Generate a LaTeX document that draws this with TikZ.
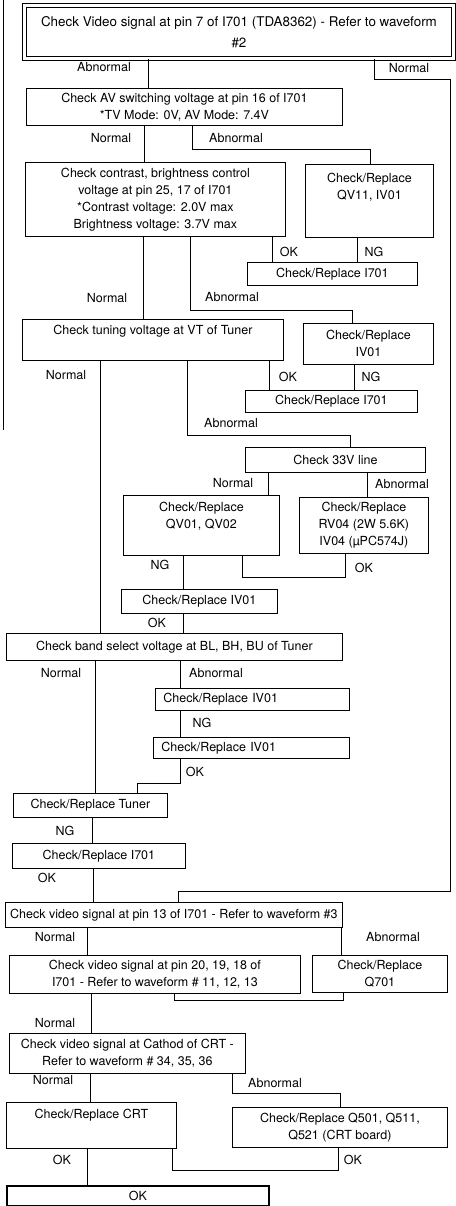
\documentclass[tikz,border=0pt]{standalone}
\usepackage{fontspec}
\setmainfont{TeX Gyre Heros}
\usetikzlibrary{positioning}

\begin{document}
\begin{tikzpicture}[
    x=1pt, y=-1pt,
    chkbox/.style={draw, rectangle, line width=0.8pt, anchor=north west, inner sep=2pt, align=center, font=\fontsize{12.5}{17}\selectfont},
    leftbox/.style={chkbox, align=left, inner xsep=8pt},
    topbox/.style={chkbox, double, double distance=2.6pt, line width=0.9pt, font=\fontsize{13.4}{17}\selectfont},
    okbox/.style={chkbox, line width=2pt},
    wh/.style 2 args={minimum width=#1pt, minimum height=#2pt},
    lbl/.style={font=\fontsize{12.5}{17}\selectfont, inner sep=1pt},
    conn/.style={line width=0.8pt}
]
\useasboundingbox[fill=white] (0,0) rectangle (455,1206);

% ---------- check boxes ----------
\node[topbox, wh={429}{53}] (vtop) at (24,5) {Check Video signal at pin 7 of I701 (TDA8362) - Refer to waveform\\[4pt]\#2};
\node[chkbox, wh={316}{37}] (av) at (26,88) {Check AV switching voltage at pin 16 of I701\\{*}TV Mode: 0V, AV Mode: 7.4V};
\node[chkbox, wh={260}{74}] (cbv) at (25,162) {Check contrast, brightness control\\voltage at pin 25, 17 of I701\\{*}Contrast voltage: 2.0V max\\Brightness voltage: 3.7V max};
\node[chkbox, wh={128}{73}] (qv11) at (305,164) {Check/Replace\\QV11, IV01\\[13pt]\mbox{}};
\node[chkbox, wh={170}{23}] (rep1) at (247,262) {Check/Replace I701};
\node[chkbox, wh={261}{41}] (tun) at (22,319) {Check tuning voltage at VT of Tuner\\[3pt]\mbox{}};
\node[chkbox, wh={130}{41}] (ivx1) at (303,323) {Check/Replace\\IV01};
\node[chkbox, wh={172}{22}] (rep2) at (245,390) {Check/Replace I701};
\node[chkbox, wh={180}{25}] (v33) at (245,447) {Check 33V line};
\node[chkbox, wh={156}{60}] (qv01) at (123,495) {Check/Replace\\QV01, QV02\\[3pt]\mbox{}};
\node[chkbox, wh={129}{56}] (rv04) at (299,497) {Check/Replace\\RV04 (2W 5.6K)\\IV04 (µPC574J)};
\node[chkbox, wh={156}{24}] (ivx2) at (121,589) {Check/Replace IV01};
\node[chkbox, wh={336}{27}] (band) at (6,633) {Check band select voltage at BL, BH, BU of Tuner};
\node[leftbox, text width=178pt, minimum height=22pt] (ivx3) at (155,688) {Check/Replace IV01};
\node[leftbox, text width=180pt, minimum height=21pt] (ivx4) at (153,737) {Check/Replace IV01};
\node[chkbox, wh={154}{24}] (tuner) at (13,793) {Check/Replace Tuner};
\node[chkbox, wh={173}{25}] (rep3) at (12,843) {Check/Replace I701};
\node[chkbox, wh={337}{25}] (pin13) at (5,902) {Check video signal at pin 13 of I701 - Refer to waveform \#3};
\node[chkbox, wh={291}{38}] (pin20) at (9,955) {Check video signal at pin 20, 19, 18 of\\I701 - Refer to waveform \# 11, 12, 13};
\node[chkbox, wh={135}{37}] (q701) at (312,955) {Check/Replace\\Q701};
\node[chkbox, wh={236}{40}] (cath) at (9,1033) {Check video signal at Cathod of CRT -\\Refer to waveform \# 34, 35, 36};
\node[chkbox, wh={170}{46}] (crt) at (6,1102) {Check/Replace CRT\\[7pt]\mbox{}};
\node[chkbox, wh={215}{40}] (q501) at (232,1107) {Check/Replace Q501, Q511,\\Q521 (CRT board)};
\node[okbox, wh={262}{20}] (okend) at (6,1185) {OK};

% ---------- branch labels ----------
\node[lbl] (ab1) at (104,67) {Abnormal};
\node[lbl] (no1) at (409,68) {Normal};
\node[lbl] (no2) at (111,138) {Normal};
\node[lbl] (ab2) at (236,138) {Abnormal};
\node[lbl] (ok1) at (289,252) {OK};
\node[lbl] (ng1) at (374,252) {NG};
\node[lbl] (no3) at (107,298) {Normal};
\node[lbl] (ab3) at (232,297) {Abnormal};
\node[lbl] (no4) at (66,375) {Normal};
\node[lbl] (ok2) at (288,377) {OK};
\node[lbl] (ng2) at (371,377) {NG};
\node[lbl] (ab4) at (231,423) {Abnormal};
\node[lbl] (no5) at (233,483) {Normal};
\node[lbl] (ab5) at (402,484) {Abnormal};
\node[lbl] (ng3) at (160,565) {NG};
\node[lbl] (ok3) at (364,568) {OK};
\node[lbl] (ok4) at (157,623) {OK};
\node[lbl] (no6) at (61,673) {Normal};
\node[lbl] (ab6) at (216,673) {Abnormal};
\node[lbl] (ng4) at (202,723) {NG};
\node[lbl] (ok5) at (195,772) {OK};
\node[lbl] (ng5) at (65,831) {NG};
\node[lbl] (ok6) at (47,878) {OK};
\node[lbl] (no7) at (55,937) {Normal};
\node[lbl] (ab7) at (393,937) {Abnormal};
\node[lbl] (no8) at (55,1023) {Normal};
\node[lbl] (no9) at (53,1080) {Normal};
\node[lbl] (ab8) at (275,1083) {Abnormal};
\node[lbl] (ok7) at (62,1160) {OK};
\node[lbl] (ok8) at (353,1160) {OK};

% ---------- connectors ----------
\draw[conn] (3,0) -- (3,430);
\draw[conn] (vtop.south -| 148,0) -- (av.north -| 148,0);
\draw[conn] (vtop.south -| 374,0) -- (374,79) -- (450,79) -- (450,891) -| (pin13.north -| 178,0);
\draw[conn] (av.south -| 144,0) -- (cbv.north -| 144,0);
\draw[conn] (av.south -| 192,0) -- (192,149) -| (qv11.north -| 370,0);
\draw[conn] (cbv.south -| 143,0) -- (tun.north -| 143,0);
\draw[conn] (cbv.south -| 190,0) -- (190,310) -| (ivx1.north -| 352,0);
\draw[conn] (cbv.south -| 272,0) -- (rep1.north -| 272,0);
\draw[conn] (qv11.south -| 357,0) -- (rep1.north -| 357,0);
\draw[conn] (tun.south -| 100,0) -- (band.north -| 100,0);
\draw[conn] (tun.south -| 187,0) -- (187,435) -| (v33.north -| 350,0);
\draw[conn] (tun.south -| 269,0) -- (rep2.north -| 269,0);
\draw[conn] (ivx1.south -| 354,0) -- (rep2.north -| 354,0);
\draw[conn] (v33.south -| 268,0) -- (qv01.north -| 268,0);
\draw[conn] (v33.south -| 367,0) -- (rv04.north -| 367,0);
\draw[conn] (qv01.south -| 183,0) -- (ivx2.north -| 183,0);
\draw[conn] (qv01.south -| 242,0) -- (242,577) -| (rv04.south -| 345,0);
\draw[conn] (ivx2.south -| 183,0) -- (band.north -| 183,0);
\draw[conn] (band.south -| 95,0) -- (tuner.north -| 95,0);
\draw[conn] (band.south -| 180,0) -- (ivx3.north -| 180,0);
\draw[conn] (ivx3.south -| 180,0) -- (ivx4.north -| 180,0);
\draw[conn] (ivx4.south -| 180,0) -- (180,783) -| (tuner.north -| 137,0);
\draw[conn] (tuner.south -| 92,0) -- (rep3.north -| 92,0);
\draw[conn] (rep3.south -| 93,0) -- (pin13.north -| 93,0);
\draw[conn] (pin13.south -| 87,0) -- (pin20.north -| 87,0);
\draw[conn] (pin13.south -| 341,0) -- (q701.north -| 341,0);
\draw[conn] (pin20.south -| 174,0) -- (174,1000) -| (q701.south -| 343,0);
\draw[conn] (pin20.south -| 91,0) -- (cath.north -| 91,0);
\draw[conn] (cath.south -| 90,0) -- (crt.north -| 90,0);
\draw[conn] (cath.south -| 232,0) -- (232,1093) -| (q501.north -| 340,0);
\draw[conn] (crt.south -| 87,0) -- (okend.north -| 87,0);
\draw[conn] (crt.south -| 172,0) -- (172,1170) -| (q501.south -| 338,0);

\end{tikzpicture}
\end{document}
